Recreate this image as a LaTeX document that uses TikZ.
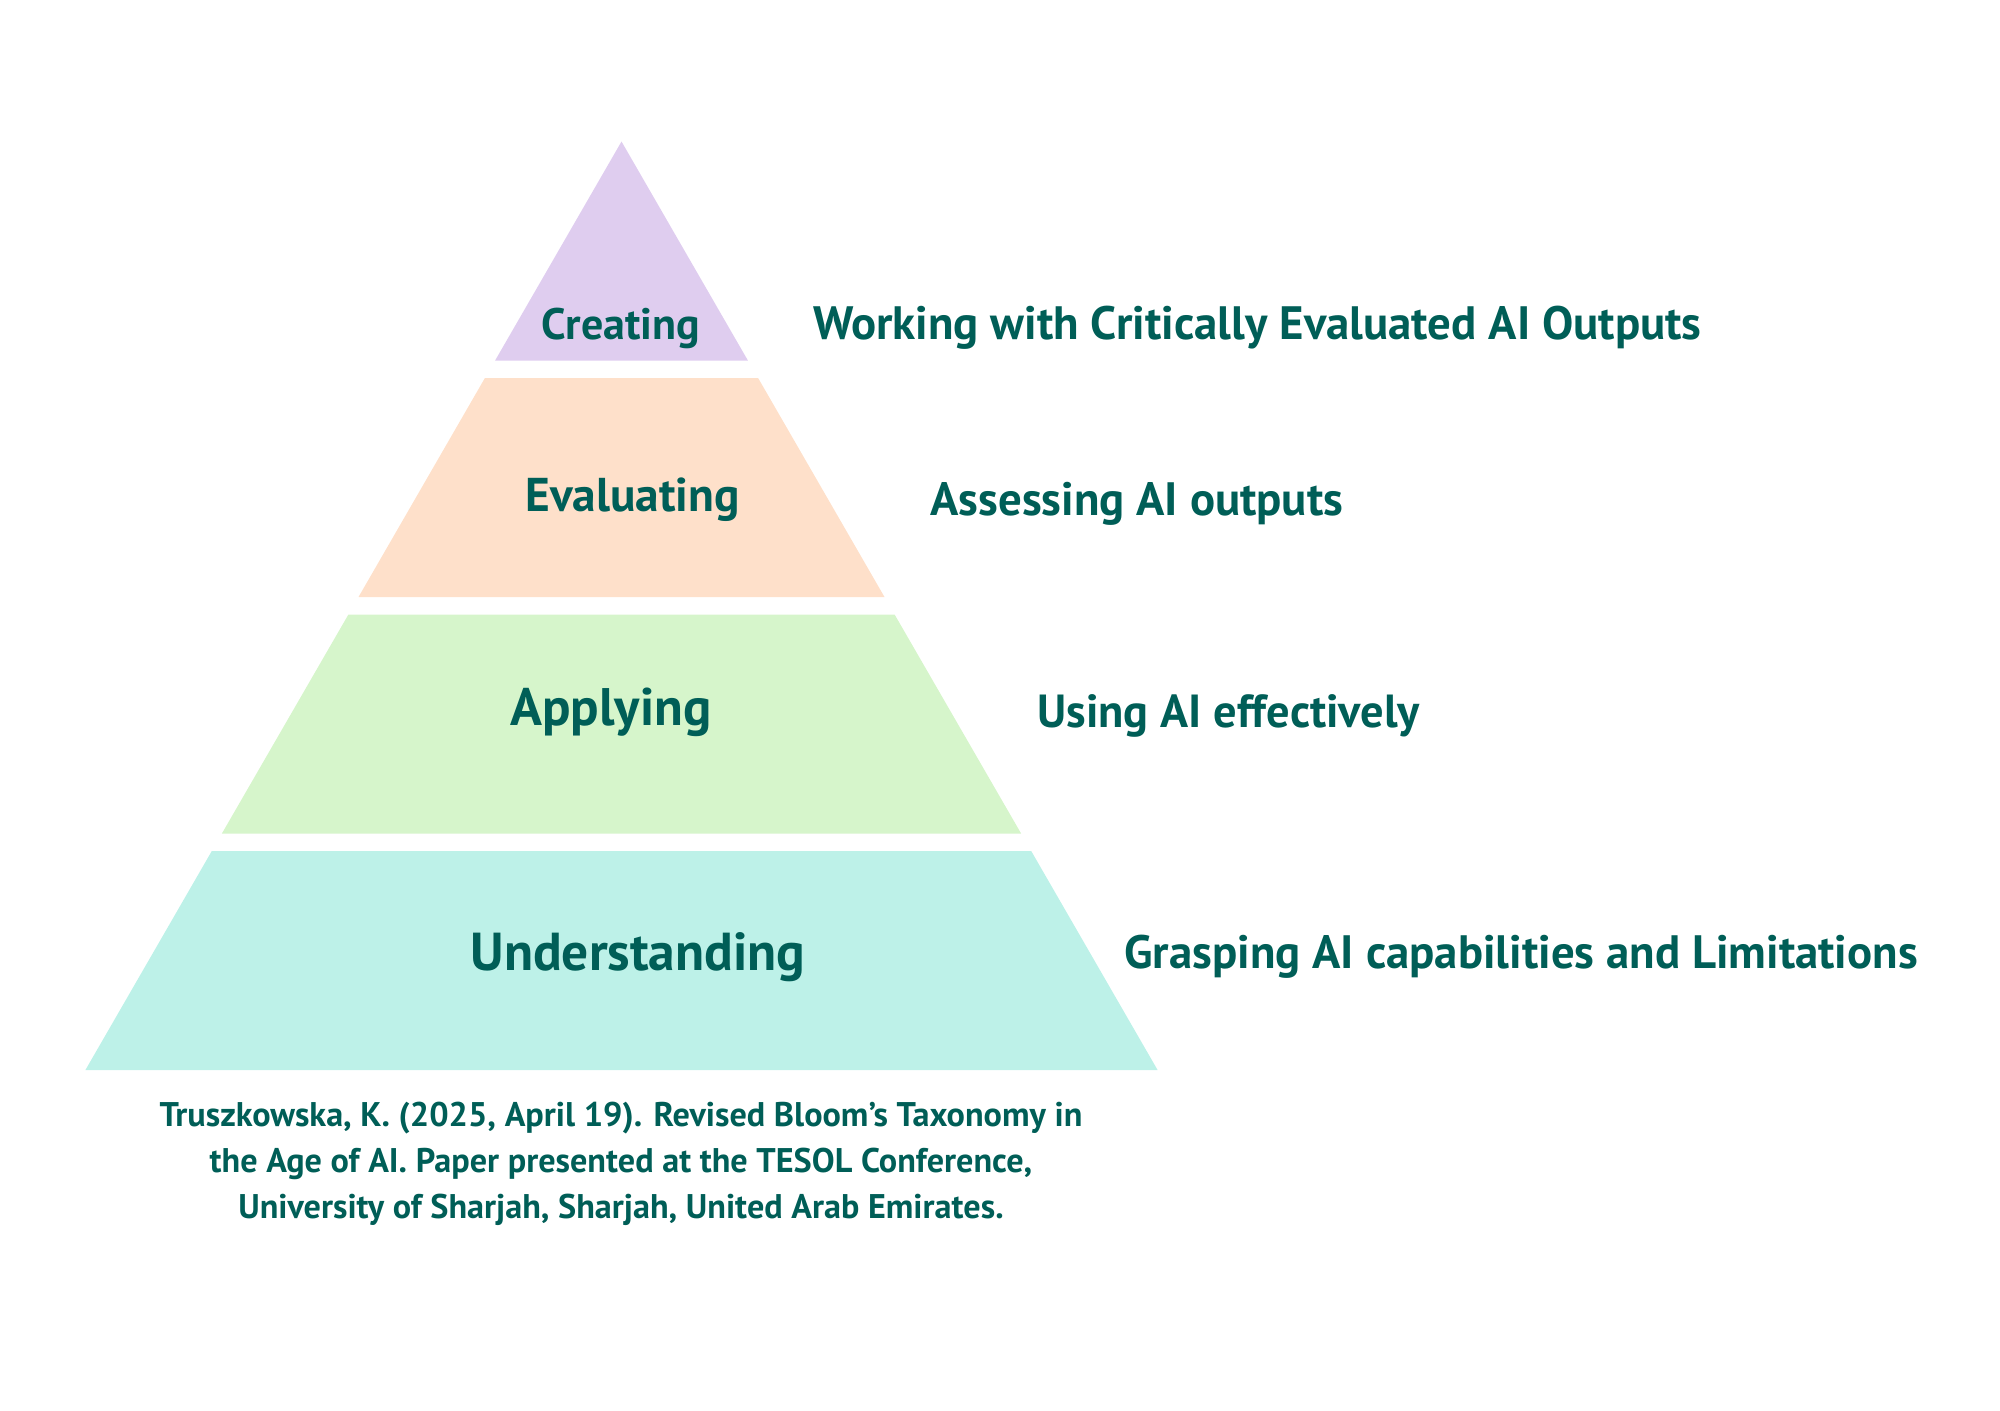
\documentclass[tikz,border=0pt]{standalone}
\usepackage{fontspec}
\setmainfont{PT Sans}
\usepackage{tikz}
\usetikzlibrary{positioning, calc}

\definecolor{inkteal}{HTML}{005E57}
\definecolor{createfill}{HTML}{DFCDEF}
\definecolor{evalfill}{HTML}{FEE0CA}
\definecolor{applyfill}{HTML}{D6F5CB}
\definecolor{underfill}{HTML}{BDF1E8}

\begin{document}
\begin{tikzpicture}[x=0.5pt, y=-0.5pt, every node/.style={align=center, text=inkteal, font=\bfseries, inner sep=0pt},
  level/.style={font=\bfseries\fontsize{#1}{#1}\selectfont},
  desc/.style={anchor=west, font=\bfseries\fontsize{#1}{#1}\selectfont}]
\useasboundingbox (0,0) rectangle (2000,1410);
% pyramid bands
\fill[createfill] (621.5,141.5) -- (747.9,360.5) -- (495.1,360.5) -- cycle;
\fill[evalfill] (484.9,378) -- (758.1,378) -- (884.5,597) -- (358.5,597) -- cycle;
\fill[applyfill] (348.4,614.5) -- (894.6,614.5) -- (1021.1,833.5) -- (221.9,833.5) -- cycle;
\fill[underfill] (211.8,851) -- (1031.2,851) -- (1157.6,1070) -- (85.4,1070) -- cycle;
% level names
\node[level=22] (creating) at (621,328) {Creating};
\node[level=23.7] (evaluating) at (632.5,500) {Evaluating};
\node[level=26.4] (applying) at (611,712) {Applying};
\node[level=26.7] (understanding) at (638,957) {Understanding};
% descriptions
\node[desc=23.4] (create-desc) at (813,328) {Working with Critically Evaluated AI Outputs};
\node[desc=23.4] (eval-desc) at (930,504) {Assessing AI outputs};
\node[desc=23.2] (apply-desc) at (1037,716) {Using AI effectively};
\node[desc=23.4] (under-desc) at (1124,957) {Grasping AI capabilities and Limitations};
% reference
\node[font=\bfseries\fontsize{17.1}{23}\selectfont] (citation) at (621,1164) {Truszkowska, K. (2025, April 19). Revised Bloom’s Taxonomy in\\the Age of AI. Paper presented at the TESOL Conference,\\University of Sharjah, Sharjah, United Arab Emirates.};
\end{tikzpicture}
\end{document}
